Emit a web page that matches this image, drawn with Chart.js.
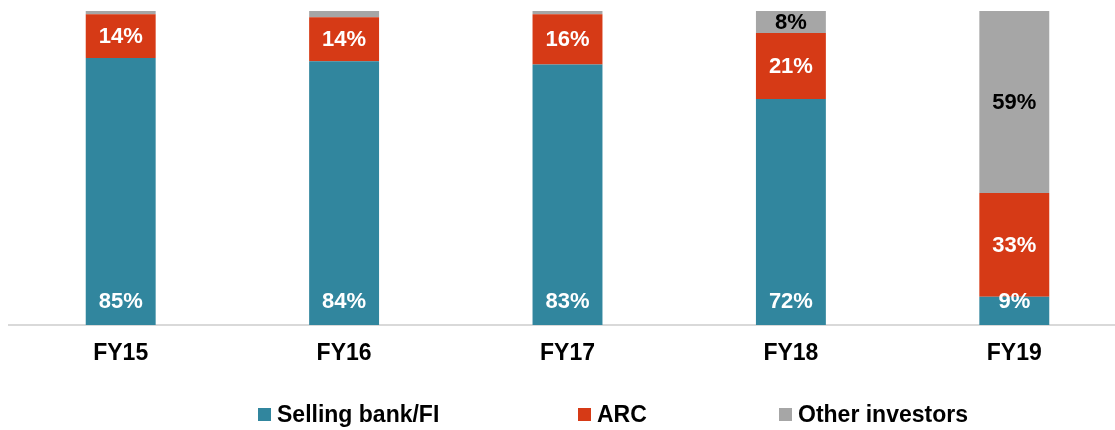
<!DOCTYPE html>
<html>
<head>
<meta charset="utf-8">
<script src="https://cdn.jsdelivr.net/npm/chart.js@4.4.0/dist/chart.umd.min.js"></script>
<style>
  html, body { margin:0; padding:0; background:#fff; overflow:hidden; }
  #wrap { position:relative; width:1115px; height:430px; overflow:hidden; }
  #c { position:absolute; left:0; top:0; }
  .lg { position:absolute; top:402px; font:bold 23px "Liberation Sans", Arial, sans-serif; color:#000; white-space:nowrap; line-height:25px; }
  .lg span.box { position:absolute; left:0; top:6px; width:13px; height:13px; }
  .lg span.txt { position:absolute; left:19px; top:0; }
</style>
</head>
<body>
<div id="wrap">
  <canvas id="c" width="1130" height="430" style="width:1130px;height:430px"></canvas>
</div>
<script>
const categories = ["FY15", "FY16", "FY17", "FY18", "FY19"];
const sellingBank = [85, 84, 83, 72, 9];
const arc = [14, 14, 16, 21, 33];
const otherInvestors = [1, 2, 1, 8, 59];
const seriesNames = ["Selling bank/FI", "ARC", "Other investors"];
const seriesColors = ["#31869E", "#D63A16", "#A6A6A6"];
const legendLefts = [258, 578, 779];

const labelPlugin = {
  id: 'barLabels',
  afterDatasetsDraw(chart) {
    const ctx = chart.ctx;
    ctx.save();
    ctx.font = 'bold 22px "Liberation Sans", Arial, sans-serif';
    ctx.textAlign = 'center';
    ctx.textBaseline = 'middle';
    chart.data.datasets.forEach((ds, di) => {
      const meta = chart.getDatasetMeta(di);
      meta.data.forEach((el, i) => {
        const v = ds.data[i];
        if (v < 3) return;
        const top = Math.max(el.y, chart.chartArea.top);
        let y;
        if (di === 0) y = el.base - 23;
        else y = (top + el.base) / 2 + 1;
        ctx.fillStyle = di === 2 ? '#000' : '#fff';
        ctx.fillText(v + '%', el.x, y);
      });
    });
    ctx.restore();
  }
};

new Chart(document.getElementById('c'), {
  type: 'bar',
  data: {
    labels: categories,
    datasets: [
      { label: seriesNames[0], data: sellingBank, backgroundColor: seriesColors[0] },
      { label: seriesNames[1], data: arc, backgroundColor: seriesColors[1] },
      { label: seriesNames[2], data: otherInvestors, backgroundColor: seriesColors[2] }
    ]
  },
  options: {
    responsive: false,
    animation: false,
    layout: { padding: { left: 9, right: 4, top: 11, bottom: 0 } },
    datasets: { bar: { categoryPercentage: 1, barPercentage: 0.313, borderWidth: 0 } },
    plugins: { legend: { display: false }, tooltip: { enabled: false } },
    scales: {
      x: {
        stacked: true,
        grid: { display: false, drawTicks: false },
        border: { display: true, color: '#D9D9D9', width: 2 },
        ticks: { color: '#000', padding: 15, font: { family: '"Liberation Sans", Arial, sans-serif', size: 23, weight: 'bold' } },
        afterFit(scale) { scale.height = 105; }
      },
      y: { stacked: true, display: false, min: 0, max: 100 }
    }
  },
  plugins: [labelPlugin]
});

const wrap = document.getElementById('wrap');
seriesNames.forEach((n, i) => {
  const d = document.createElement('div');
  d.className = 'lg';
  d.style.left = legendLefts[i] + 'px';
  d.innerHTML = '<span class="box" style="background:' + seriesColors[i] + '"></span><span class="txt"></span>';
  d.querySelector('.txt').textContent = n;
  wrap.appendChild(d);
});
</script>
</body>
</html>
